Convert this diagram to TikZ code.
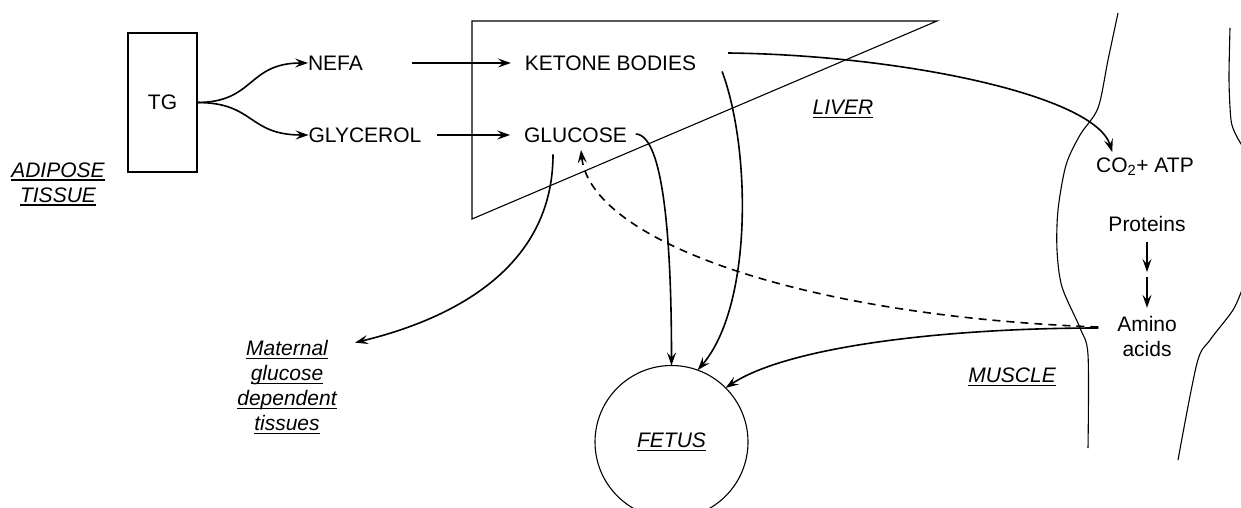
\documentclass[tikz,border=0pt]{standalone}
\usepackage{fontspec}
\setmainfont{Liberation Sans}
\usetikzlibrary{arrows.meta,calc}
\newcommand\uln[1]{\setbox0\hbox{#1}\rlap{\rule[-3.5pt]{\wd0}{1.1pt}}\box0}
\tikzset{
  lbl/.style={inner sep=0pt, outer sep=0pt, font=\fontsize{21pt}{25pt}\selectfont, align=center},
  ilbl/.style={lbl, font=\fontsize{21pt}{25pt}\selectfont\itshape},
  arr/.style={line width=1.6pt, -{Stealth[length=13pt,width=9pt,inset=5pt]}},
  dasharr/.style={arr, dash pattern=on 8pt off 6pt},
  outline/.style={line width=1.1pt},
}
\begin{document}
\begin{tikzpicture}[x=1pt,y=-1pt]
\clip (0,0) rectangle (1241,508);
\fill[white] (0,0) rectangle (1241,508);

% liver outline
\draw[outline] (472,21) -- (937,21) -- (472,219) -- cycle;

% muscle outline
\draw[outline] plot[smooth, tension=0.5] coordinates {(1118,13) (1108,60) (1098,108) (1080,135) (1066,165) (1058,210) (1057,250) (1062,287) (1080,328) (1088,355) (1088,448)};
\draw[outline] plot[smooth, tension=0.5] coordinates {(1230,28) (1229,80) (1231,120) (1236,135) (1243,147)};
\draw[outline] plot[smooth, tension=0.5] coordinates {(1243,287) (1233,310) (1210,340) (1197,363) (1178,460)};

% nodes
\node[lbl, draw, outline, minimum width=69pt, minimum height=139pt] (tg) at (162.5,102.5) {TG};
\node[lbl] (nefa) at (335.5,63) {NEFA};
\node[lbl] (glycerol) at (365,135) {GLYCEROL};
\node[lbl] (ketone) at (610.5,63) {KETONE BODIES};
\node[lbl] (glucose) at (575.5,135) {GLUCOSE};
\node[lbl] (co2) at (1145,167) {CO\textsubscript{2}+ ATP};
\node[lbl] (proteins) at (1147,224) {Proteins};
\node[lbl] (amino) at (1147,336) {Amino\\acids};
\node[ilbl] (adipose) at (58,184) {\uln{ADIPOSE}\\\uln{TISSUE}};
\node[ilbl] (liver) at (843,109) {\uln{LIVER}};
\node[ilbl] (muscle) at (1012,377) {\uln{MUSCLE}};
\node[ilbl] (maternal) at (287,387) {\uln{Maternal}\\\uln{glucose}\\\uln{dependent}\\\uln{tissues}};
\node[ilbl, draw, outline, circle, minimum size=153pt] (fetus) at (671.5,442) {\uln{FETUS}};
\coordinate (pa) at (1147,274.5);

% connectors
\draw[arr] (tg.east) .. controls +(58,0) and +(-61,0) .. (nefa.west);
\draw[arr] (tg.east) .. controls +(58,0) and +(-61,0) .. (glycerol.west);
\draw[arr, shorten <=49pt, shorten >=14pt] (nefa.east) -- (ketone.west);
\draw[arr, shorten <=16pt, shorten >=14pt] (glycerol.east) -- (glucose.west);
\draw[arr] ($(ketone.east)+(32,-10)$) .. controls (900,55) and (1095,95) .. ($(co2.north west)+(16,-6)$);
\draw[arr] ($(ketone.south east)+(26,1)$) .. controls +(29,78) and +(55,-64) .. (fetus.70);
\draw[arr] ($(glucose.east)+(9,-1)$) .. controls +(29,1) and +(0,-115) .. (fetus.north);
\draw[arr] ($(glucose.south)+(-22.5,12)$) .. controls +(0,115) and +(95,-23) .. ($(maternal.north)+(68,2.5)$);
\draw[arr] ($(amino.west)+(-19,-8)$) .. controls +(-150,0) and +(63,-42) .. (fetus.45);
\draw[dasharr] ($(amino.west)+(-19,-9)$) .. controls +(-300,-11) and +(9,90) .. ($(glucose.south)+(5.5,7.5)$);
\draw[arr, shorten <=10pt, shorten >=2.5pt] (proteins.south) -- (pa);
\draw[arr, shorten <=2.5pt, shorten >=8pt] (pa) -- (amino.north);
\end{tikzpicture}
\end{document}
